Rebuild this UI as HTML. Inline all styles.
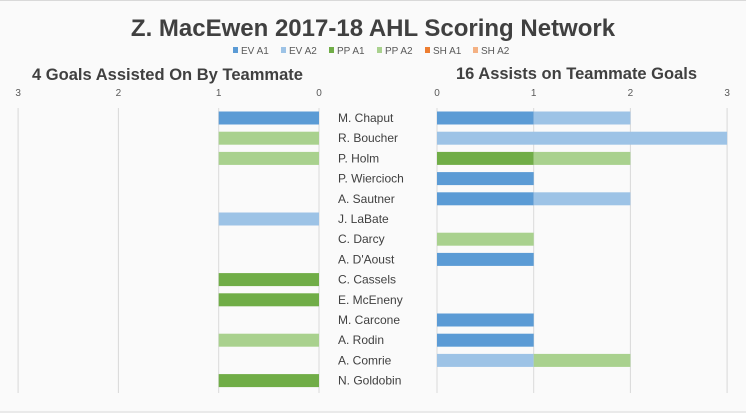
<!DOCTYPE html>
<html><head><meta charset="utf-8">
<style>
html,body{margin:0;padding:0;background:#fafafa;}
svg{display:block;font-family:"Liberation Sans",sans-serif;}
</style></head>
<body>
<svg id="chart" width="746" height="413" viewBox="0 0 746 413" xmlns="http://www.w3.org/2000/svg">
<rect x="0" y="0" width="746" height="413" fill="#fafafa"/>
<line x1="0" y1="0.5" x2="746" y2="0.5" stroke="#d9d9d9"/>
<line x1="0" y1="412" x2="746" y2="412" stroke="#d9d9d9"/>
<text x="373" y="36" text-anchor="middle" font-size="24" font-weight="bold" fill="#404040">Z. MacEwen 2017-18 AHL Scoring Network</text>
<g id="legend"></g>
<text x="32" y="80" font-size="17" font-weight="bold" fill="#404040" textLength="271" lengthAdjust="spacingAndGlyphs">4 Goals Assisted On By Teammate</text>
<text x="456" y="79" font-size="17" font-weight="bold" fill="#404040" textLength="241" lengthAdjust="spacingAndGlyphs">16 Assists on Teammate Goals</text>
<g id="grid"></g>
<g id="bars"></g>
<g id="labels"></g>
</svg>
<script>
const players = ["M. Chaput","R. Boucher","P. Holm","P. Wiercioch","A. Sautner","J. LaBate","C. Darcy","A. D'Aoust","C. Cassels","E. McEneny","M. Carcone","A. Rodin","A. Comrie","N. Goldobin"];
const seriesNames = ["EV A1","EV A2","PP A1","PP A2","SH A1","SH A2"];
const seriesColors = ["#5b9bd5","#9dc3e6","#70ad47","#a9d18e","#ed7d31","#f4b183"];
const leftEVA1 = [1,0,0,0,0,0,0,0,0,0,0,0,0,0];
const leftEVA2 = [0,0,0,0,0,1,0,0,0,0,0,0,0,0];
const leftPPA1 = [0,0,0,0,0,0,0,0,1,1,0,0,0,1];
const leftPPA2 = [0,1,1,0,0,0,0,0,0,0,0,1,0,0];
const leftSHA1 = [0,0,0,0,0,0,0,0,0,0,0,0,0,0];
const leftSHA2 = [0,0,0,0,0,0,0,0,0,0,0,0,0,0];
const rightEVA1 = [1,0,0,1,1,0,0,1,0,0,1,1,0,0];
const rightEVA2 = [1,3,0,0,1,0,0,0,0,0,0,0,1,0];
const rightPPA1 = [0,0,1,0,0,0,0,0,0,0,0,0,0,0];
const rightPPA2 = [0,0,1,0,0,0,1,0,0,0,0,0,1,0];
const rightSHA1 = [0,0,0,0,0,0,0,0,0,0,0,0,0,0];
const rightSHA2 = [0,0,0,0,0,0,0,0,0,0,0,0,0,0];
const tickValues = [0,1,2,3];

const NS="http://www.w3.org/2000/svg";
const leftX = v => 319 - v*100.3;
const rightX = v => 437 + v*96.7;
const rowY = i => 118 + i*20.2;
const barH = 13;
function mk(tag, parent){const e=document.createElementNS(NS,tag);parent.appendChild(e);return e;}

const lg=document.getElementById('legend');
const legX=[233,281,329,377,425,473];
seriesNames.forEach((n,i)=>{
  const r=mk('rect',lg);
  
  
  r.setAttribute('x',legX[i]);r.setAttribute('y',47);r.setAttribute('width',5);r.setAttribute('height',6);r.setAttribute('fill',seriesColors[i]);
  const t=mk('text',lg);
  
  
  t.setAttribute('x',legX[i]+8);t.setAttribute('y',54);t.setAttribute('font-size','10');t.setAttribute('fill','#595959');
  t.textContent=n;
});

const g=document.getElementById('grid');
tickValues.forEach(v=>{
  [[leftX(v),'left'],[rightX(v),'right']].forEach(([x,side])=>{
    const l=mk('line',g);
    
    
    l.setAttribute('x1',x);l.setAttribute('x2',x);l.setAttribute('y1',108);l.setAttribute('y2',393);l.setAttribute('stroke','#d9d9d9');
    const t=mk('text',g);
    
    
    t.setAttribute('x',x);t.setAttribute('y',96);t.setAttribute('text-anchor','middle');t.setAttribute('font-size','10');t.setAttribute('fill','#595959');
    t.textContent=v;
  });
});

const b=document.getElementById('bars');
const leftSeries=[leftEVA1,leftEVA2,leftPPA1,leftPPA2,leftSHA1,leftSHA2];
const rightSeries=[rightEVA1,rightEVA2,rightPPA1,rightPPA2,rightSHA1,rightSHA2];
players.forEach((p,i)=>{
  let acc=0;
  leftSeries.forEach((s,k)=>{
    if(s[i]>0){
      const r=mk('rect',b);
      
      
      const x1=leftX(acc+s[i]), x2=leftX(acc);
      r.setAttribute('x',x1);r.setAttribute('y',rowY(i)-barH/2);r.setAttribute('width',x2-x1);r.setAttribute('height',barH);r.setAttribute('fill',seriesColors[k]);
    }
    acc+=s[i];
  });
  acc=0;
  rightSeries.forEach((s,k)=>{
    if(s[i]>0){
      const r=mk('rect',b);
      
      
      const x1=rightX(acc), x2=rightX(acc+s[i]);
      r.setAttribute('x',x1);r.setAttribute('y',rowY(i)-barH/2);r.setAttribute('width',x2-x1);r.setAttribute('height',barH);r.setAttribute('fill',seriesColors[k]);
    }
    acc+=s[i];
  });
  const t=mk('text',document.getElementById('labels'));
  
  
  t.setAttribute('x',338);t.setAttribute('y',rowY(i)+4);t.setAttribute('font-size','12');t.setAttribute('fill','#404040');
  t.textContent=p;
});
</script>
</body></html>
